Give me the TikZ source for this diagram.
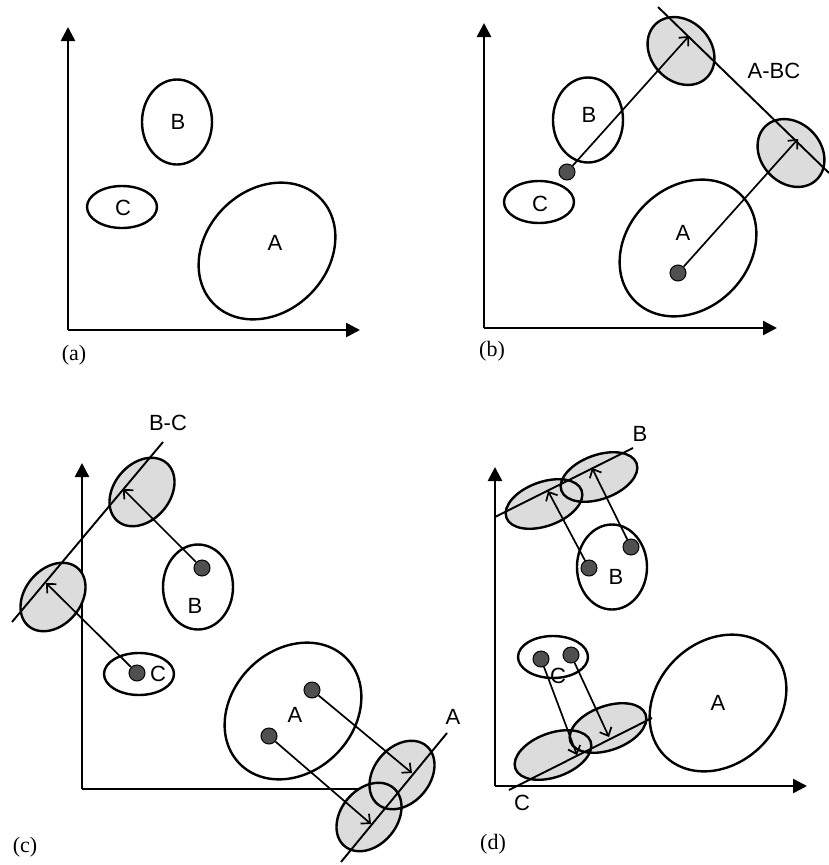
\documentclass[tikz,border=0pt]{standalone}
\usepackage{fontspec}
\setmainfont{Liberation Serif}
\setsansfont{Liberation Sans}
\usetikzlibrary{shapes.geometric,arrows.meta}
\definecolor{gfillc}{RGB}{220,220,220}
\definecolor{dotc}{RGB}{80,80,80}
\begin{document}
\begin{tikzpicture}[x=1pt,y=-1pt,
  axis/.style={line width=2.6pt,-{Triangle[length=14pt,width=14pt]}},
  axisline/.style={line width=2.6pt},
  ell/.style={ellipse,draw,line width=2.4pt,inner sep=0pt,outer sep=0pt},
  ellB/.style={ell,minimum width=70pt,minimum height=85pt},
  ellC/.style={ell,minimum width=70pt,minimum height=42pt},
  ellA/.style={ell,minimum width=150pt,minimum height=122pt,rotate=45},
  gshape/.style={ellipse,inner sep=0pt,outer sep=0pt},
  gb/.style={gshape,minimum width=74pt,minimum height=60pt,rotate=133},
  gc/.style={gshape,minimum width=76pt,minimum height=56pt,rotate=50},
  gd/.style={gshape,minimum width=80pt,minimum height=44pt,rotate=20},
  gfill/.style={fill=gfillc},
  gline/.style={draw,line width=2.4pt},
  dot/.style={circle,fill=dotc,draw=black,line width=1pt,minimum size=16pt,inner sep=0pt},
  conn/.style={line width=1.7pt,-{Straight Barb[length=7pt,width=13pt,line width=1.7pt]}},
  pline/.style={line width=1.9pt},
  lbl/.style={font=\fontsize{22}{22}\selectfont\sffamily,inner sep=0pt},
  plbl/.style={font=\fontsize{22}{22}\selectfont,inner sep=0pt}
]
\useasboundingbox (0,0) rectangle (829,865);

% ---------------- panel (a)
\coordinate (ao) at (68,330);
\coordinate (ay) at (68,27);
\coordinate (ax) at (360,330);
\draw[axis] (ao) -- (ay);
\draw[axis] (ao) -- (ax);
\node[ellB] (aB) at (177,122) {};
\node[ellC] (aC) at (122,207) {};
\node[ellA] (aA) at (267,251) {};
\node[lbl] (aBl) at (178,122) {B};
\node[lbl] (aCl) at (123,208) {C};
\node[lbl] (aAl) at (275,243) {A};
\node[plbl] (pa) at (74,355) {(a)};

% ---------------- panel (b)
\coordinate (bo) at (484,328);
\coordinate (by) at (484,23);
\coordinate (bx) at (777,328);
\draw[axis] (bo) -- (by);
\draw[axis] (bo) -- (bx);
\node[gb,gfill] (bg1) at (681,51) {};
\node[gb,gfill] (bg2) at (791,153) {};
\node[gb,gline] (bg1o) at (bg1) {};
\node[gb,gline] (bg2o) at (bg2) {};
\node[ellB] (bB) at (588,120) {};
\node[ellC] (bC) at (539,202) {};
\node[ellA] (bA) at (688,248) {};
\coordinate (bl1) at (658,7);
\coordinate (bl2) at (829,173);
\draw[pline] (bl1) -- (bl2);
\node[dot] (bdB) at (567,172) {};
\node[dot] (bdA) at (678,273) {};
\coordinate (btB) at (689,36);
\coordinate (btA) at (798,139);
\draw[conn] (bdB) -- (btB);
\draw[conn] (bdA) -- (btA);
\node[lbl] (bBl) at (589,115) {B};
\node[lbl] (bCl) at (540,204) {C};
\node[lbl] (bAl) at (683,233) {A};
\node[lbl] (bABC) at (774,71) {A-BC};
\node[plbl] (pb) at (492,351) {(b)};

% ---------------- panel (c)
\coordinate (co) at (82,789);
\coordinate (cy) at (82,463);
\coordinate (cx) at (372,789);
\draw[axis] (co) -- (cy);
\draw[axisline] (co) -- (cx);
\node[gc,gfill] (cg1) at (142,492) {};
\node[gc,gfill] (cg2) at (53,597) {};
\node[gc,gfill] (cg3) at (402,775) {};
\node[gc,gfill] (cg4) at (369,817) {};
\node[gc,gline] (cg1o) at (cg1) {};
\node[gc,gline] (cg2o) at (cg2) {};
\node[gc,gline] (cg3o) at (cg3) {};
\node[gc,gline] (cg4o) at (cg4) {};
\node[ellB] (cB) at (198,587) {};
\node[ellC] (cC) at (139,674) {};
\node[ellA] (cA) at (293,711) {};
\coordinate (cl1) at (12,622);
\coordinate (cl2) at (163,442);
\draw[pline] (cl1) -- (cl2);
\coordinate (cl3) at (341,862);
\coordinate (cl4) at (447,733);
\draw[pline] (cl3) -- (cl4);
\node[dot] (cdB) at (202,568) {};
\node[dot] (cdC) at (137,673) {};
\node[dot] (cdA1) at (312,690) {};
\node[dot] (cdA2) at (269,736) {};
\coordinate (ctB) at (123,489);
\coordinate (ctC) at (46,583);
\coordinate (ctA1) at (412,773);
\coordinate (ctA2) at (371,824);
\draw[conn] (cdB) -- (ctB);
\draw[conn] (cdC) -- (ctC);
\draw[conn] (cdA1) -- (ctA1);
\draw[conn] (cdA2) -- (ctA2);
\node[lbl] (cBl) at (195,606) {B};
\node[lbl] (cCl) at (158,674) {C};
\node[lbl] (cAl) at (295,715) {A};
\node[lbl] (cBC) at (168,423) {B-C};
\node[lbl] (cAx) at (453,717) {A};
\node[plbl] (pc) at (25,847) {(c)};

% ---------------- panel (d)
\coordinate (do) at (495,786);
\coordinate (dy) at (495,467);
\coordinate (dx) at (807,786);
\draw[axis] (do) -- (dy);
\draw[axis] (do) -- (dx);
\node[lbl] (dCl) at (558,676) {C};
\node[gd,gfill] (dg1) at (544,504) {};
\node[gd,gfill] (dg2) at (599,477) {};
\node[gd,gfill] (dg3) at (553,755) {};
\node[gd,gfill] (dg4) at (608,728) {};
\node[gd,gline] (dg1o) at (dg1) {};
\node[gd,gline] (dg2o) at (dg2) {};
\node[gd,gline] (dg3o) at (dg3) {};
\node[gd,gline] (dg4o) at (dg4) {};
\node[ellB] (dB) at (612,567) {};
\node[ellC] (dC) at (553,657) {};
\node[ellA] (dA) at (718,703) {};
\coordinate (dl1) at (495,517);
\coordinate (dl2) at (633,448);
\draw[pline] (dl1) -- (dl2);
\coordinate (dl3) at (509,790);
\coordinate (dl4) at (652,718);
\draw[pline] (dl3) -- (dl4);
\node[dot] (ddB1) at (589,568) {};
\node[dot] (ddB2) at (631,547) {};
\node[dot] (ddC1) at (541,659) {};
\node[dot] (ddC2) at (571,655) {};
\coordinate (dtB1) at (548,491);
\coordinate (dtB2) at (592,468);
\coordinate (dtC1) at (577,755);
\coordinate (dtC2) at (609,737);
\draw[conn] (ddB1) -- (dtB1);
\draw[conn] (ddB2) -- (dtB2);
\draw[conn] (ddC1) -- (dtC1);
\draw[conn] (ddC2) -- (dtC2);
\node[lbl] (dBl) at (616,577) {B};
\node[lbl] (dAl) at (718,703) {A};
\node[lbl] (dBx) at (640,434) {B};
\node[lbl] (dCx) at (522,803) {C};
\node[plbl] (pd) at (493,844) {(d)};
\end{tikzpicture}
\end{document}
